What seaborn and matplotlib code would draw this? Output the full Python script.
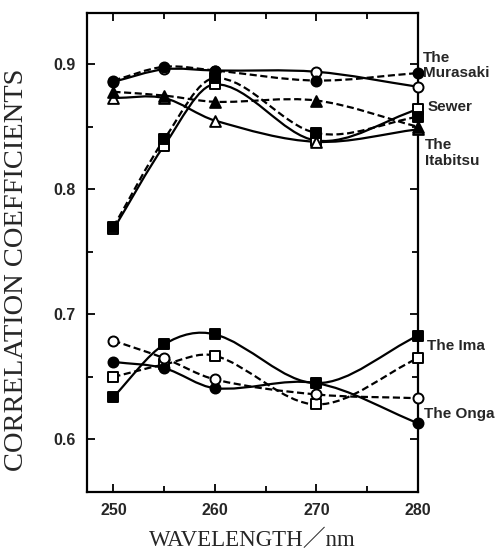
import numpy as np
import pandas as pd
import matplotlib
matplotlib.use("Agg")
import matplotlib.pyplot as plt
from matplotlib.path import Path
from matplotlib.patches import PathPatch
from matplotlib.ticker import MultipleLocator
import seaborn as sns

# Wavelengths (nm) at which correlation coefficients were computed
wavelength = [250, 255, 260, 270, 280]

# Upper group
murasaki_open = [0.886, 0.896, 0.895, 0.894, 0.882]
murasaki_filled = [0.887, 0.898, 0.895, 0.887, 0.893]
sewer_open = [0.768, 0.835, 0.884, 0.839, 0.864]
sewer_filled = [0.770, 0.840, 0.889, 0.845, 0.858]
itabitsu_open = [0.873, 0.873, 0.855, 0.838, 0.848]
itabitsu_filled = [0.878, 0.875, 0.870, 0.871, 0.850]

# Lower group
ima_filled = [0.634, 0.676, 0.684, 0.645, 0.683]
ima_open = [0.650, 0.660, 0.667, 0.628, 0.665]
onga_filled = [0.662, 0.657, 0.641, 0.645, 0.613]
onga_open = [0.679, 0.665, 0.648, 0.636, 0.633]

river_labels = ["The\nMurasaki", "Sewer", "The\nItabitsu", "The Ima", "The Onga"]
label_y = [0.899, 0.866, 0.829, 0.675, 0.620]
label_x = [280.45, 280.9, 280.7, 280.85, 280.6]

# (values, marker, filled, linestyle)
series = [
    (murasaki_open, "o", False, "solid"),
    (murasaki_filled, "o", True, "dashed"),
    (sewer_open, "s", False, "solid"),
    (sewer_filled, "s", True, "dashed"),
    (itabitsu_open, "^", False, "solid"),
    (itabitsu_filled, "^", True, "dashed"),
    (ima_filled, "s", True, "solid"),
    (ima_open, "s", False, "dashed"),
    (onga_filled, "o", True, "solid"),
    (onga_open, "o", False, "dashed"),
]

sns.set_theme(style="ticks")
plt.rcParams["font.family"] = ["Liberation Sans", "DejaVu Sans"]

fig = plt.figure(figsize=(4.95, 5.51), dpi=100)
ax = fig.add_axes([0.1758, 0.1071, 0.6686, 0.8693])


def smooth_path(xs, ys):
    """Cubic Hermite curve through the points, built as Bezier segments."""
    xs = np.asarray(xs, float)
    ys = np.asarray(ys, float)
    n = len(xs)
    m = np.zeros(n)
    for i in range(n):
        if i == 0:
            m[i] = (ys[1] - ys[0]) / (xs[1] - xs[0])
        elif i == n - 1:
            m[i] = (ys[-1] - ys[-2]) / (xs[-1] - xs[-2])
        else:
            m[i] = (ys[i + 1] - ys[i - 1]) / (xs[i + 1] - xs[i - 1])
    verts = [(xs[0], ys[0])]
    codes = [Path.MOVETO]
    for i in range(n - 1):
        h = xs[i + 1] - xs[i]
        verts += [(xs[i] + h / 3, ys[i] + m[i] * h / 3),
                  (xs[i + 1] - h / 3, ys[i + 1] - m[i + 1] * h / 3),
                  (xs[i + 1], ys[i + 1])]
        codes += [Path.CURVE4] * 3
    return Path(verts, codes)


for vals, marker, filled, ls in series:
    patch = PathPatch(smooth_path(wavelength, vals), fill=False,
                      edgecolor="black", lw=1.6,
                      linestyle=(0, (3.2, 1.6)) if ls == "dashed" else "-",
                      zorder=2, clip_on=False)
    ax.add_patch(patch)
    df = pd.DataFrame({"wl": wavelength, "r": vals})
    sns.scatterplot(data=df, x="wl", y="r", ax=ax, marker=marker,
                    s=52 if marker != "^" else 60,
                    facecolor="black" if filled else "white",
                    edgecolor="black", linewidth=1.4, zorder=3,
                    clip_on=False, legend=False)

ax.set_xlim(247.4, 280)
ax.set_ylim(0.558, 0.941)

ax.xaxis.set_major_locator(MultipleLocator(10))
ax.xaxis.set_minor_locator(MultipleLocator(5))
ax.yaxis.set_major_locator(MultipleLocator(0.1))
ax.yaxis.set_minor_locator(MultipleLocator(0.05))
ax.yaxis.set_major_formatter(matplotlib.ticker.FormatStrFormatter("%.1f"))

ax.tick_params(which="both", direction="in", top=True, right=True,
               width=1.3, color="black")
ax.tick_params(which="major", length=6, labelsize=11.5, pad=8)
ax.tick_params(which="minor", length=4)
for lab in ax.get_xticklabels() + ax.get_yticklabels():
    lab.set_fontweight("bold")

for sp in ax.spines.values():
    sp.set_linewidth(1.6)
    sp.set_color("black")

ax.set_xlabel("WAVELENGTH／nm", family=["Liberation Serif", "Noto Sans CJK JP"],
              fontsize=16.5)
ax.xaxis.set_label_coords(0.5, -0.078)
ax.set_ylabel("CORRELATION COEFFICIENTS", family=["Liberation Serif"],
              fontsize=20.5)
ax.yaxis.set_label_coords(-0.175, 0.463)

for txt, xv, yv in zip(river_labels, label_x, label_y):
    ax.text(xv, yv, txt, ha="left", va="center", fontsize=11,
            family=["Liberation Sans Narrow", "Liberation Sans"],
            fontweight="bold", linespacing=1.15, clip_on=False)

ax.grid(False)
fig.savefig("out.png", dpi=100)
